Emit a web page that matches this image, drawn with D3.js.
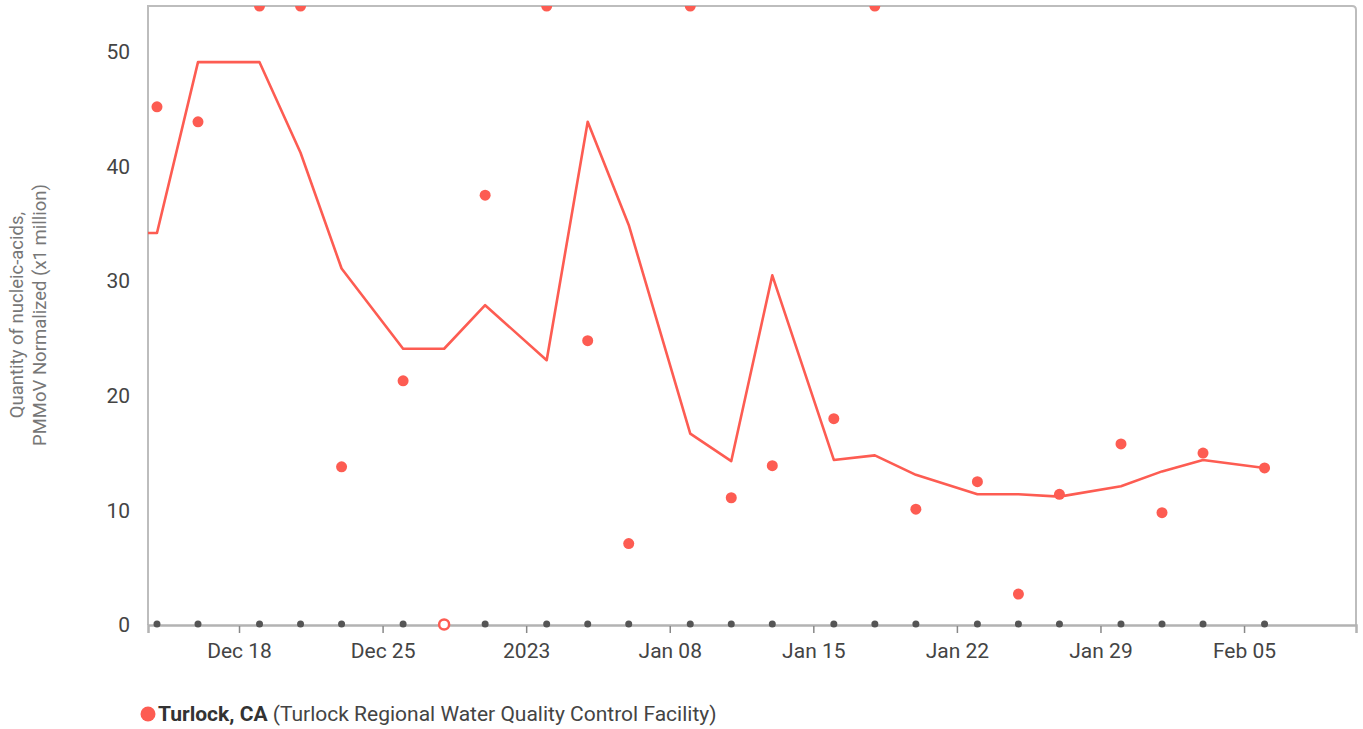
<!DOCTYPE html>
<html>
<head>
<meta charset="utf-8">
<script src="https://cdn.jsdelivr.net/npm/d3@7"></script>
<style>
  body { margin: 0; background: #fff; font-family: Roboto, "Noto Sans", sans-serif; }
  svg { display: block; }
</style>
</head>
<body>
<svg width="1363" height="729"></svg>
<script>
// sample dates (Mon / Wed / Fri)
var sampleDates = ["2022-12-14","2022-12-16","2022-12-19","2022-12-21","2022-12-23","2022-12-26",
    "2022-12-28","2022-12-30","2023-01-02","2023-01-04","2023-01-06","2023-01-09","2023-01-11",
    "2023-01-13","2023-01-16","2023-01-18","2023-01-20","2023-01-23","2023-01-25","2023-01-27",
    "2023-01-30","2023-02-01","2023-02-03","2023-02-06"];
// measured values, null = non detect
var sampleValues = [45.2, 43.9, 62, 58, 13.8, 21.3, null, 37.5, 60, 24.8, 7.1, 66, 11.1,
    13.9, 18.0, 57, 10.1, 12.5, 2.7, 11.4, 15.8, 9.8, 15.0, 13.7];
// trend line (starts one sample before the visible window)
var trendDates = ["2022-12-12"].concat(sampleDates);
var trendValues = [34.2, 34.2, 49.1, 49.1, 41.2, 31.1, 24.1, 24.1, 27.9, 23.1, 43.9, 34.9, 16.7,
    14.3, 30.5, 14.4, 14.8, 13.1, 11.4, 11.4, 11.2, 12.1, 13.4, 14.4, 13.7];
var yTicks = [0, 10, 20, 30, 40, 50];

var parse = d3.timeParse("%Y-%m-%d");
var red = "#fd5c52";

var svg = d3.select("svg");
var margin = {top: 6, right: 7, bottom: 104, left: 148};
var width = 1363 - margin.left - margin.right;
var height = 729 - margin.top - margin.bottom;

var plot = svg.append("g")
    .attr("transform", "translate(" + margin.left + "," + margin.top + ")");

var x = d3.scaleTime()
    .domain([new Date(2022, 11, 13, 13, 30), new Date(2023, 1, 10, 11)])
    .range([0, width]);
var y = d3.scaleLinear()
    .domain([0, 54])
    .range([height, 0]);
var yClamp = y.copy().clamp(true);

svg.append("defs").append("clipPath").attr("id", "clip")
    .append("rect").attr("width", width).attr("height", height + 10);

// frame
plot.append("path")
    .attr("d", "M0," + height + "V0H" + (width - 4) + "Q" + width + ",0 " + width + ",4V" + height)
    .attr("fill", "none")
    .attr("stroke", "#bdbdbd")
    .attr("stroke-width", 2);

// x axis
var fmt = function (d) {
    return (d.getMonth() === 0 && d.getDate() === 1) ? d3.timeFormat("%Y")(d) : d3.timeFormat("%b %d")(d);
};
var xAxis = d3.axisBottom(x).ticks(d3.timeWeek.every(1)).tickFormat(fmt).tickSize(8).tickPadding(10);
var xGroup = plot.append("g")
    .attr("transform", "translate(0," + height + ")")
    .call(xAxis);
xGroup.select(".domain").attr("stroke", "#b3b3b3").attr("stroke-width", 2.5);
xGroup.selectAll(".tick line").attr("stroke", "#888").attr("stroke-width", 1.5).attr("y1", 1);
xGroup.selectAll("text").attr("fill", "#444").style("font-size", "21px").style("font-family", "Roboto");

// y axis
var yGroup = plot.append("g").call(d3.axisLeft(y).tickValues(yTicks).tickSize(0).tickPadding(18));
yGroup.select(".domain").remove();
yGroup.selectAll("text").attr("fill", "#444").style("font-size", "21px").style("font-family", "Roboto");

// y title
var title = svg.append("text")
    .attr("transform", "translate(29," + 315 + ") rotate(-90)")
    .attr("text-anchor", "middle")
    .attr("fill", "#777")
    .style("font-size", "18.5px");
title.append("tspan").attr("x", 0).attr("dy", "-0.3em").text("Quantity of nucleic-acids,");
title.append("tspan").attr("x", 0).attr("dy", "1.2em").text("PMMoV Normalized (x1 million)");

var layer = plot.append("g").attr("clip-path", "url(#clip)");

// trend line
var trend = trendDates.map(function (d, i) { return {date: parse(d), value: trendValues[i]}; });
layer.append("path")
    .datum(trend)
    .attr("fill", "none")
    .attr("stroke", red)
    .attr("stroke-width", 2.6)
    .attr("stroke-linejoin", "round")
    .attr("d", d3.line().x(function (d) { return x(d.date); }).y(function (d) { return y(d.value); }));

var samples = sampleDates.map(function (d, i) { return {date: parse(d), value: sampleValues[i]}; });

// sample markers on the baseline
layer.selectAll("circle.base")
    .data(samples)
    .enter().append("circle")
    .attr("class", "base")
    .attr("cx", function (d) { return x(d.date); })
    .attr("cy", height - 1)
    .attr("r", 3.5)
    .attr("fill", "#555");

// measured points
layer.selectAll("circle.pt")
    .data(samples.filter(function (d) { return d.value !== null; }))
    .enter().append("circle")
    .attr("class", "pt")
    .attr("cx", function (d) { return x(d.date); })
    .attr("cy", function (d) { return yClamp(d.value); })
    .attr("r", 5.5)
    .attr("fill", red);

// non detects
layer.selectAll("circle.nd")
    .data(samples.filter(function (d) { return d.value === null; }))
    .enter().append("circle")
    .attr("class", "nd")
    .attr("cx", function (d) { return x(d.date); })
    .attr("cy", height - 0.5)
    .attr("r", 5)
    .attr("fill", "#fff")
    .attr("stroke", red)
    .attr("stroke-width", 2.5);

// legend
var legend = svg.append("g").attr("transform", "translate(148,714)");
legend.append("circle").attr("r", 7.5).attr("fill", red);
var lt = legend.append("text").attr("x", 10).attr("dy", "0.35em").attr("fill", "#333").style("font-size", "21px");
lt.append("tspan").attr("font-weight", "bold").text("Turlock, CA");
lt.append("tspan").attr("fill", "#444").text(" (Turlock Regional Water Quality Control Facility)");
</script>
</body>
</html>
